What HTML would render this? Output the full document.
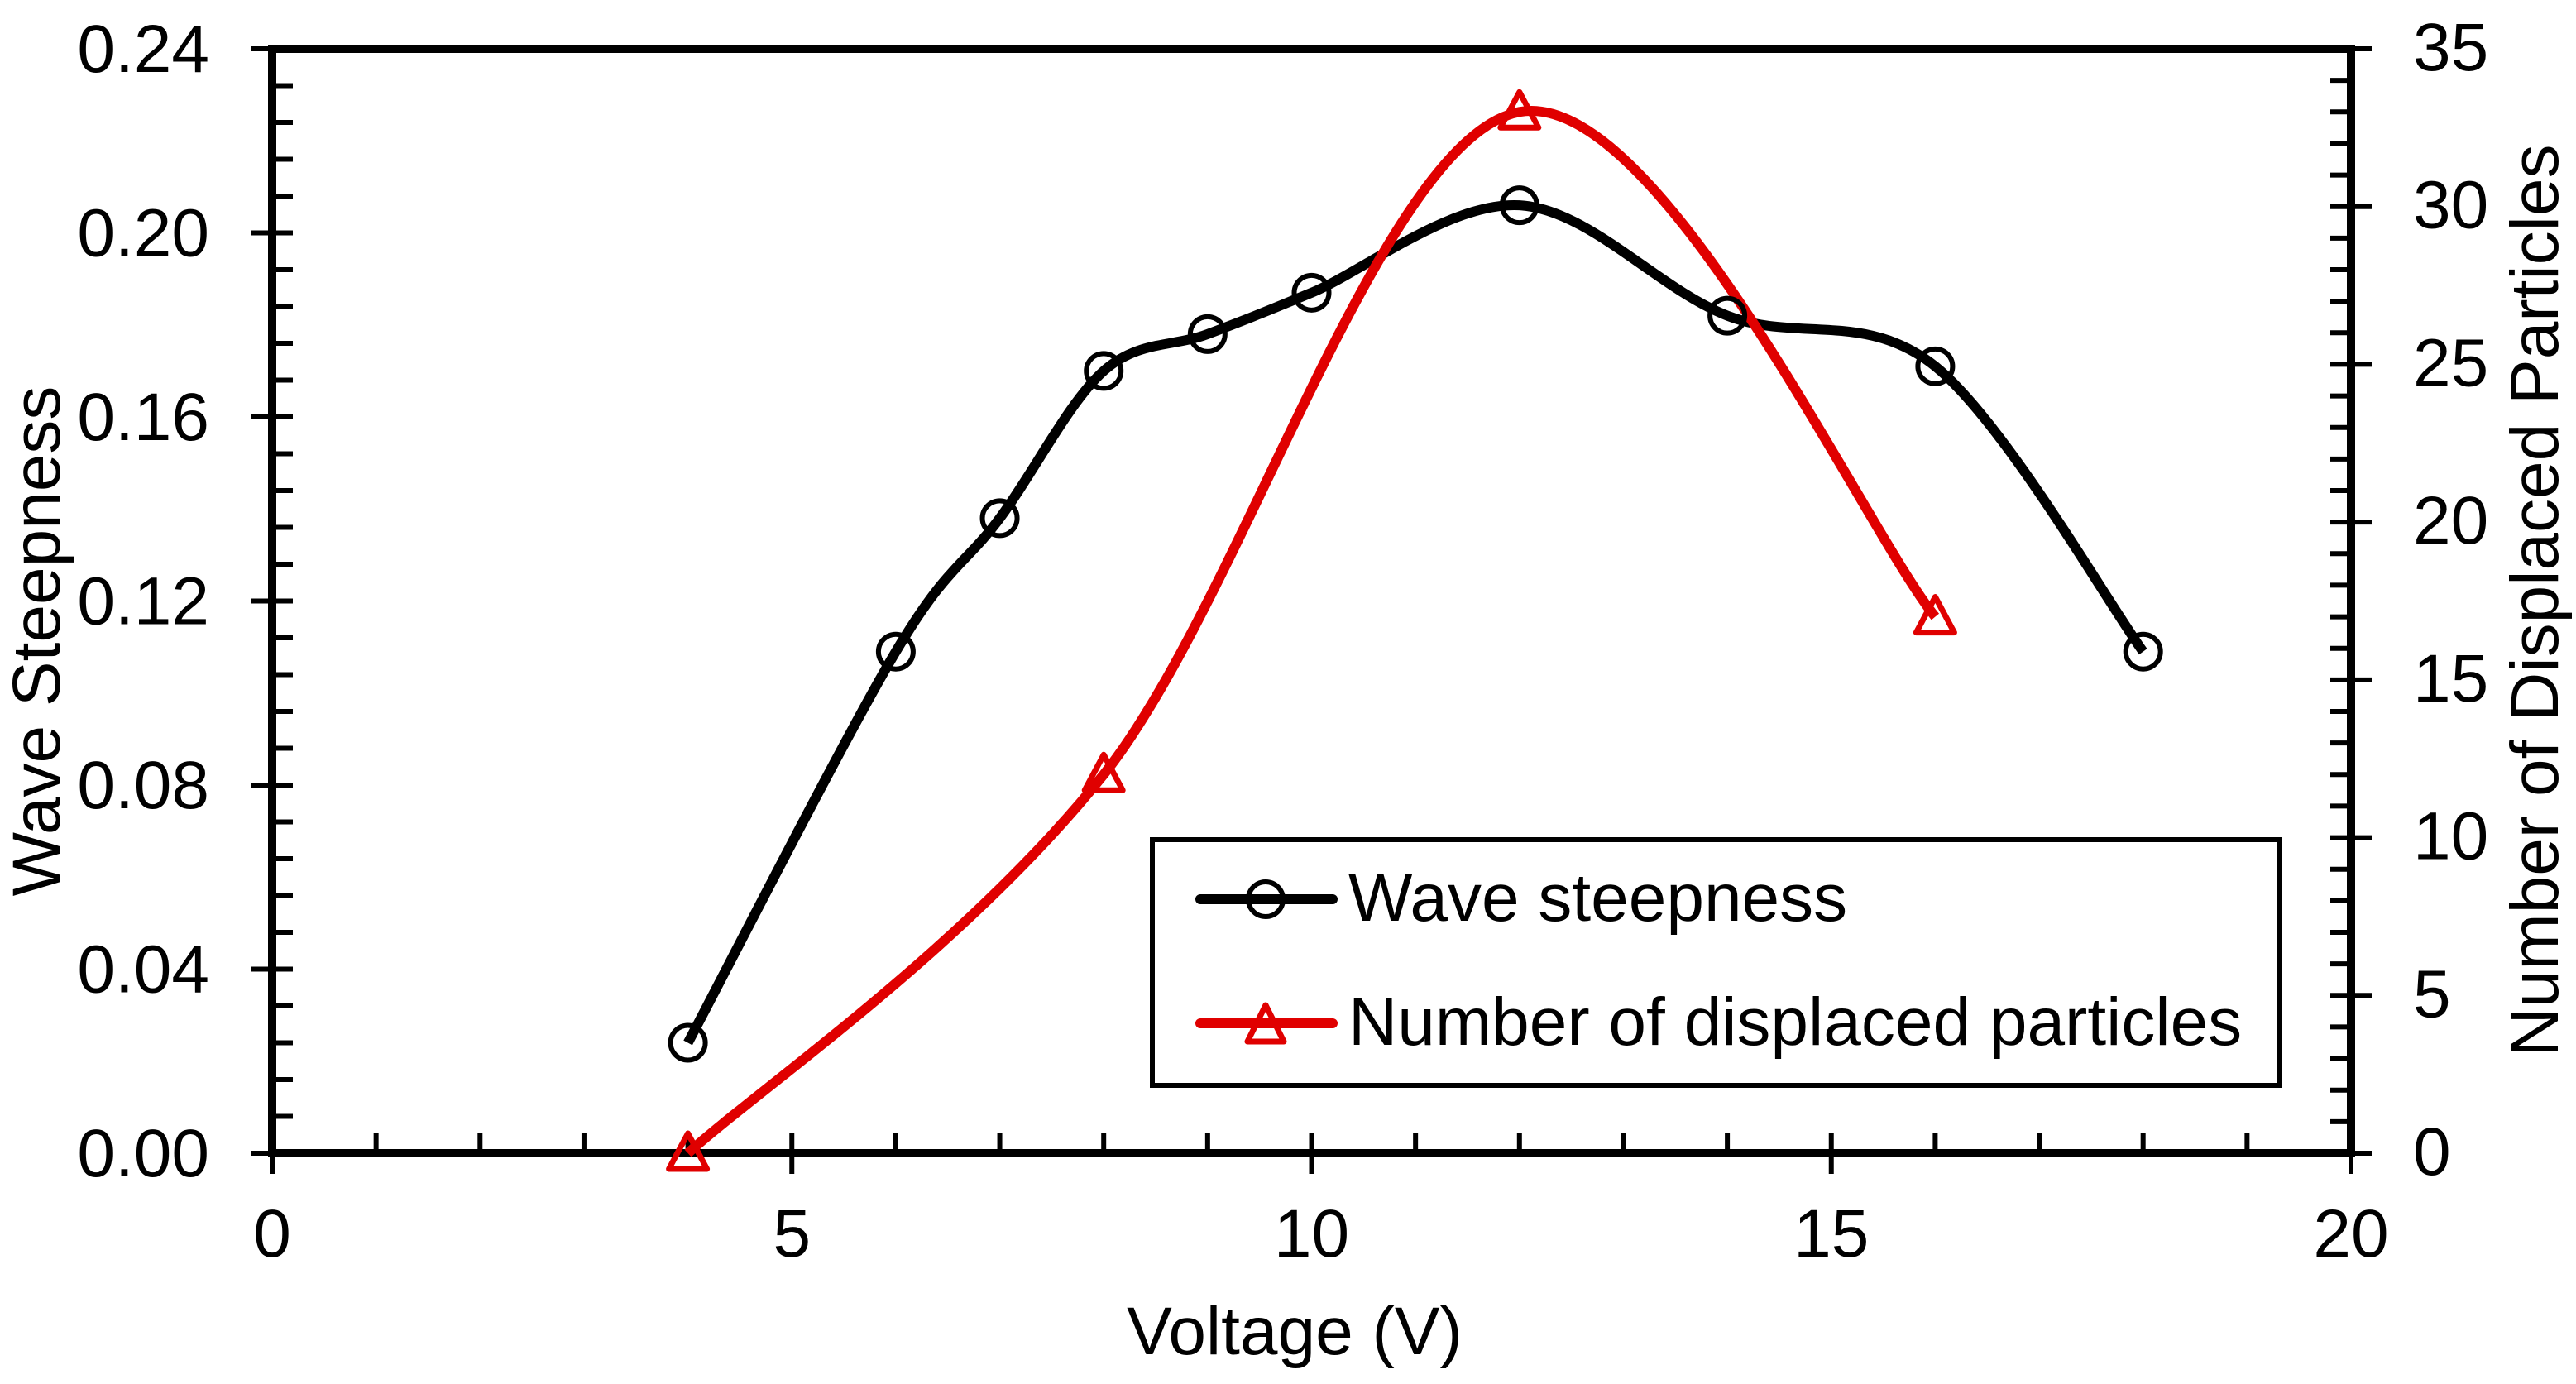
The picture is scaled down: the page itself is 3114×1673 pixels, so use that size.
<!DOCTYPE html>
<html><head><meta charset="utf-8"><style>
html,body{margin:0;padding:0;background:#fff;}
svg{display:block;font-family:"Liberation Sans",Arial,sans-serif;}
</style></head><body>
<svg id="chart" width="3114" height="1673" viewBox="0 0 3114 1673">
<g id="axes"></g>
<g id="series"></g>
<g id="legend">
  <rect x="1393" y="1015" width="1362" height="297" fill="#fff" stroke="#000" stroke-width="6"/>
  <line x1="1451" y1="1087" x2="1611" y2="1087" stroke="#000" stroke-width="12" stroke-linecap="round"/>
  <circle cx="1530" cy="1087" r="21" fill="none" stroke="#000" stroke-width="6"/>
  <text x="1630" y="1113" font-size="82">Wave steepness</text>
  <line x1="1451" y1="1237" x2="1611" y2="1237" stroke="#e00000" stroke-width="12" stroke-linecap="round"/>
  <polygon points="1530,1215 1552,1259 1508,1259" fill="none" stroke="#e00000" stroke-width="7" stroke-linejoin="round"/>
  <text x="1630" y="1263" font-size="82">Number of displaced particles</text>
</g>
<text x="1565" y="1637" font-size="82" text-anchor="middle">Voltage (V)</text>
<text transform="translate(72,775) rotate(-90)" font-size="82" text-anchor="middle">Wave Steepness</text>
<text transform="translate(3092,726) rotate(-90)" font-size="82" text-anchor="middle">Number of Displaced Particles</text>
</svg>
<script>
const waveX = [4, 6, 7, 8, 9, 10, 12, 14, 16, 18];
const waveY = [0.024, 0.109, 0.138, 0.170, 0.178, 0.187, 0.206, 0.182, 0.171, 0.109];
const partX = [4, 8, 12, 16];
const partY = [0, 12, 33, 17];
const xTicks = [0, 5, 10, 15, 20];
const yLeftTicks = ["0.00", "0.04", "0.08", "0.12", "0.16", "0.20", "0.24"];
const yRightTicks = [0, 5, 10, 15, 20, 25, 30, 35];

const NS = "http://www.w3.org/2000/svg";
const L = 329, R = 2842, T = 59, B = 1394;
const sx = v => L + (v - 0) / 20 * (R - L);
const syL = v => B - v / 0.24 * (B - T);
const syR = v => B - v / 35 * (B - T);

function mk(tag, attrs, parent) {
  const e = document.createElementNS(NS, tag);
  for (const k in attrs) e.setAttribute(k, attrs[k]);
  parent.appendChild(e);
  return e;
}
const ax = document.getElementById('axes');
const se = document.getElementById('series');

for (let i = 0; i <= 20; i++) {
  const x = sx(i);
  const major = i % 5 === 0;
  const t = mk('line', {x1: x, x2: x, y1: B - 25, y2: major ? B + 25 : B, stroke: '#000', 'stroke-width': 6}, ax);
  
  
}
xTicks.forEach(v => {
  const t = mk('text', {x: sx(v), y: B + 125, 'font-size': 82, 'text-anchor': 'middle'}, ax);
  t.textContent = v;
  
  
});
for (let i = 0; i <= 30; i++) {
  const v = i * 0.008, y = syL(v), major = i % 5 === 0;
  const t = mk('line', {x1: major ? L - 25 : L, x2: L + 25, y1: y, y2: y, stroke: '#000', 'stroke-width': 6}, ax);
  
  
}
yLeftTicks.forEach(s => {
  const t = mk('text', {x: 253, y: syL(parseFloat(s)) + 28, 'font-size': 82, 'text-anchor': 'end'}, ax);
  t.textContent = s;
  
  
});
for (let i = 0; i <= 35; i++) {
  const y = syR(i), major = i % 5 === 0;
  const t = mk('line', {x1: R - 25, x2: major ? R + 25 : R, y1: y, y2: y, stroke: '#000', 'stroke-width': 6}, ax);
  
  
}
yRightTicks.forEach(v => {
  const t = mk('text', {x: 2917, y: syR(v) + 26, 'font-size': 82}, ax);
  t.textContent = v;
  
  
});
const fr = mk('path', {d: `M${L},${B} L${L},${T} L${R},${T} L${R},${B} Z`, fill: 'none', stroke: '#000', 'stroke-width': 10}, ax);



function smooth(pts) {
  let d = `M${pts[0][0]},${pts[0][1]}`;
  for (let i = 0; i < pts.length - 1; i++) {
    const p0 = pts[Math.max(i - 1, 0)], p1 = pts[i], p2 = pts[i + 1], p3 = pts[Math.min(i + 2, pts.length - 1)];
    const c1 = [p1[0] + (p2[0] - p0[0]) / 6, p1[1] + (p2[1] - p0[1]) / 6];
    const c2 = [p2[0] - (p3[0] - p1[0]) / 6, p2[1] - (p3[1] - p1[1]) / 6];
    d += ` C${c1[0]},${c1[1]} ${c2[0]},${c2[1]} ${p2[0]},${p2[1]}`;
  }
  return d;
}
const wp = waveX.map((x, i) => [sx(x), syL(waveY[i])]);
const pp = partX.map((x, i) => [sx(x), syR(partY[i])]);
const wl = mk('path', {d: smooth(wp), fill: 'none', stroke: '#000', 'stroke-width': 12, 'stroke-linejoin': 'round'}, se);


const pl = mk('path', {d: smooth(pp), fill: 'none', stroke: '#e00000', 'stroke-width': 12, 'stroke-linejoin': 'round'}, se);


wp.forEach(p => {
  const c = mk('circle', {cx: p[0], cy: p[1], r: 21, fill: 'none', stroke: '#000', 'stroke-width': 6}, se);
  
  
});
pp.forEach(p => {
  const c = mk('polygon', {points: `${p[0]},${p[1] - 24} ${p[0] + 23},${p[1] + 19} ${p[0] - 23},${p[1] + 19}`, fill: 'none', stroke: '#e00000', 'stroke-width': 7, 'stroke-linejoin': 'round'}, se);
  
  
});
</script>
</body></html>
